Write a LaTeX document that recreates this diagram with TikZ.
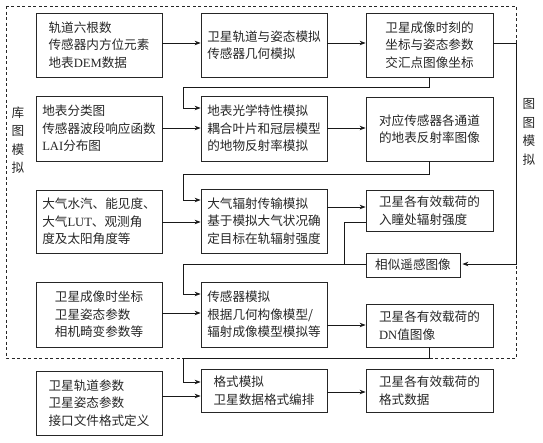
\documentclass[tikz,border=0pt]{standalone}
\usepackage{fontspec}
\setmainfont{Noto Sans CJK SC}
\newfontfamily\lat{Liberation Serif}
\usetikzlibrary{arrows.meta,calc}
\tikzset{
  box/.style={draw=black!85, line width=0.8pt, align=left, inner sep=0pt,
    font=\fontsize{12.6}{17.5}\selectfont, text=black!85},
  arr/.style={draw=black!90, line width=0.8pt, -{Stealth[length=6pt,width=4.5pt]}},
  ln/.style={draw=black!90, line width=0.8pt},
  side/.style={align=center, inner sep=0pt, font=\fontsize{12.6}{18.5}\selectfont, text=black!85},
}
\begin{document}
\begin{tikzpicture}[x=1pt,y=-1pt]
\useasboundingbox (0,0) rectangle (543,442);
% dashed frame
\draw[dashed, black!85, line width=0.7pt, dash pattern=on 3pt off 2.5pt] (6,6) rectangle (516,358);
% left column
\node[box, minimum width=126pt, minimum height=64pt] (L1) at (99,45) {轨道六根数\\传感器内方位元素\\地表{\lat DEM}数据};
\node[box, minimum width=126pt, minimum height=65pt] (L2) at (99,128.5) {地表分类图\\传感器波段响应函数\\{\lat LAI}分布图};
\node[box, minimum width=126pt, minimum height=63pt] (L3) at (99,221.5) {大气水汽、能见度、\\大气{\lat LUT}、观测角\\度及太阳角度等};
\node[box, minimum width=126pt, minimum height=65pt] (L4) at (99,314.5) {卫星成像时坐标\\卫星姿态参数\\相机畸变参数等};
\node[box, minimum width=126pt, minimum height=64pt] (L5) at (99,403) {卫星轨道参数\\卫星姿态参数\\接口文件格式定义};
% middle column
\node[box, minimum width=126pt, minimum height=64pt] (M1) at (264,45) {卫星轨道与姿态模拟\\传感器几何模拟};
\node[box, minimum width=126pt, minimum height=65pt] (M2) at (264,128.5) {地表光学特性模拟\\耦合叶片和冠层模型\\的地物反射率模拟};
\node[box, minimum width=126pt, minimum height=64pt] (M3) at (264,221) {大气辐射传输模拟\\基于模拟大气状况确\\定目标在轨辐射强度};
\node[box, minimum width=126pt, minimum height=65pt] (M4) at (264,314.5) {传感器模拟\\根据几何构像模型/\\辐射成像模型模拟等};
\node[box, minimum width=126pt, minimum height=43pt] (M5) at (264,390.5) {格式模拟\\卫星数据格式编排};
% right column
\node[box, minimum width=127pt, minimum height=64pt] (R1) at (429.5,45) {卫星成像时刻的\\坐标与姿态参数\\交汇点图像坐标};
\node[box, minimum width=127pt, minimum height=64pt] (R2) at (429.5,129) {对应传感器各通道\\的地表反射率图像};
\node[box, minimum width=127pt, minimum height=41pt] (R3) at (429.5,210.5) {卫星各有效载荷的\\入瞳处辐射强度};
\node[box, minimum width=94pt, minimum height=24pt] (S) at (413,265) {相似遥感图像};
\node[box, minimum width=127pt, minimum height=43pt] (R4) at (429.5,325.5) {卫星各有效载荷的\\{\lat DN}值图像};
\node[box, minimum width=127pt, minimum height=43pt] (R5) at (429.5,390.5) {卫星各有效载荷的\\格式数据};
% side labels
\node[side] (lk) at (18,140) {库\\图\\模\\拟};
\node[side] (lt) at (529,132) {图\\图\\模\\拟};
% horizontal arrows
\draw[arr] (L1.east |- 0,43) -- (M1.west |- 0,43);
\draw[arr] (M1.east |- 0,43) -- (R1.west |- 0,43);
\draw[arr] (L2.east |- 0,128) -- (M2.west |- 0,128);
\draw[arr] (M2.east |- 0,128) -- (R2.west |- 0,128);
\draw[arr] (L3.east |- 0,222) -- (M3.west |- 0,222);
\draw[arr] (M3.east |- 0,207) -- (R3.west |- 0,207);
\draw[arr] (L4.east |- 0,313) -- (M4.west |- 0,313);
\draw[arr] (M4.east |- 0,325) -- (R4.west |- 0,325);
\draw[arr] (L5.east |- 0,396) -- (M5.west |- 0,396);
\draw[arr] (M5.east |- 0,392) -- (R5.west |- 0,392);
% feedback connectors
\coordinate (f1) at (183,87);
\coordinate (f2) at (183,174);
\coordinate (f3) at (183,264);
\coordinate (f4) at (183,358);
\coordinate (j3) at (344,264);
\draw[arr] (R1.south) |- (f1) |- (M2.west |- 0,108);
\draw[arr] (R2.south) |- (f2) |- (M3.west |- 0,200);
\draw[ln] (R3.west |- 0,222) -| (j3) -- (S.west |- j3);
\draw[arr] (j3) -- (f3) |- (M4.west |- 0,294);
\draw[arr] (R4.south) |- (f4) |- (M5.west |- 0,382);
% right connector to similar image
\draw[arr, shorten >=2pt] (R1.east |- 0,43) -| (516,264) -- (S.east |- 0,264);
\end{tikzpicture}
\end{document}
